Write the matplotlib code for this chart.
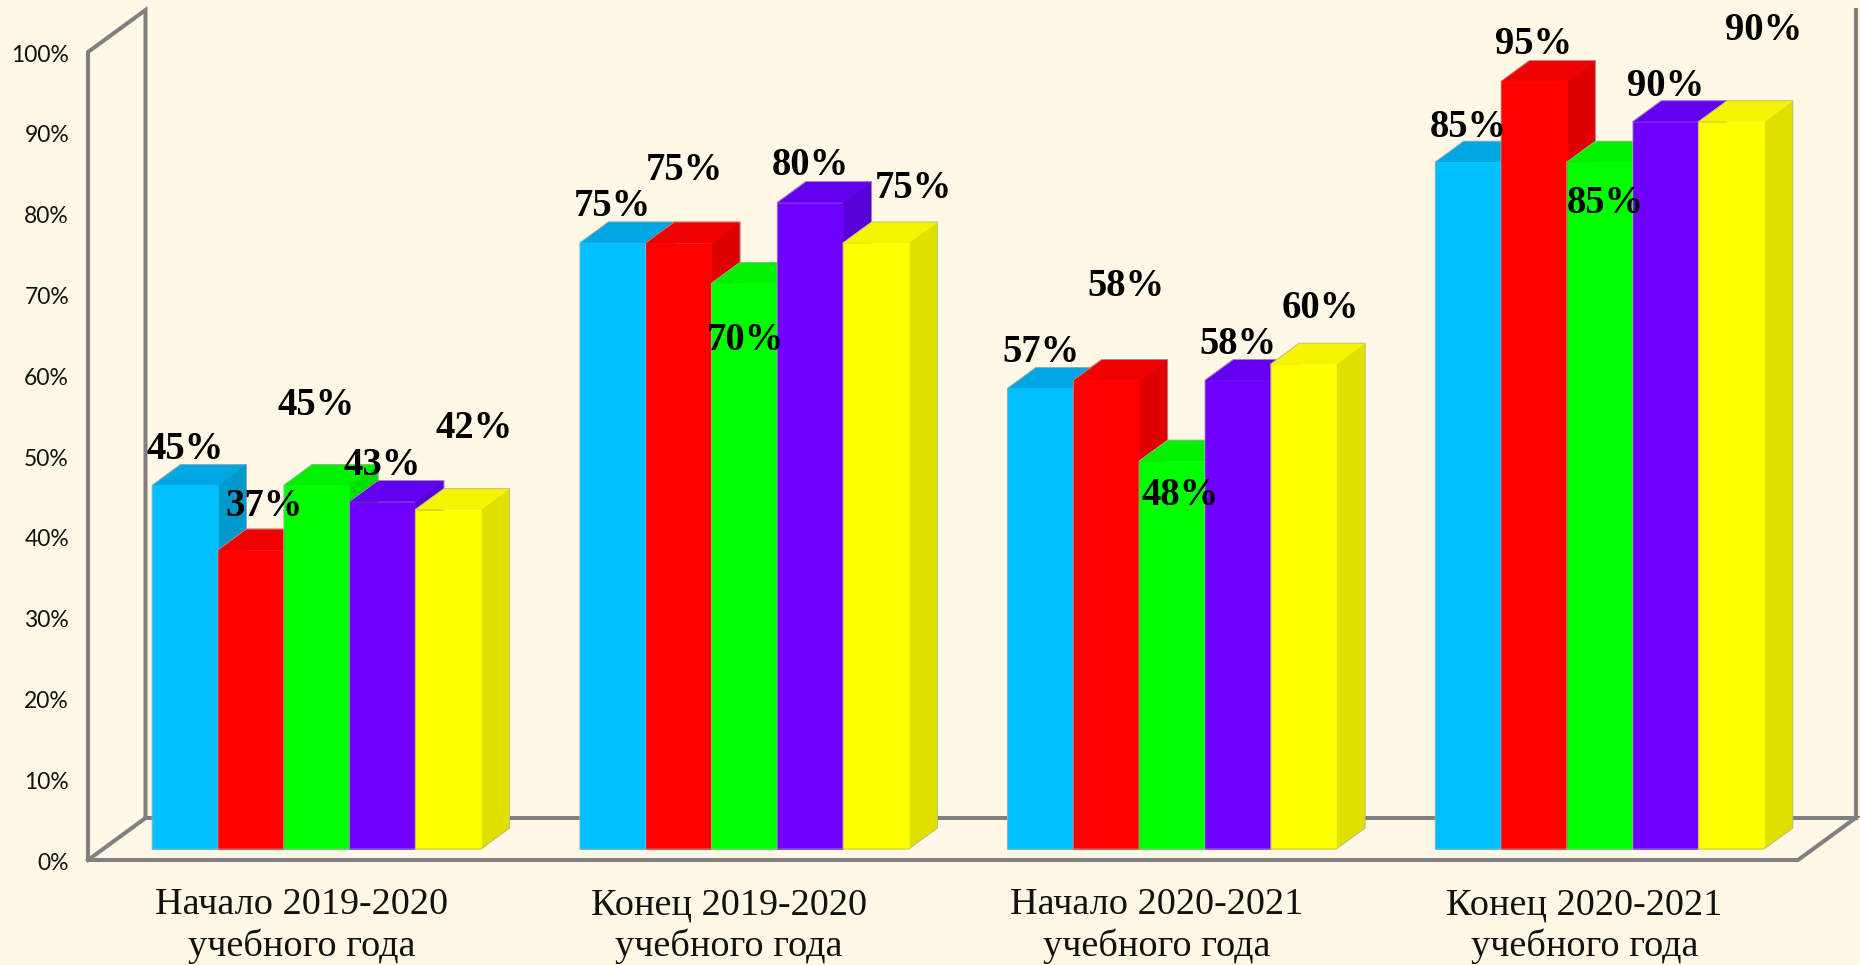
import matplotlib
matplotlib.use("Agg")
import matplotlib.pyplot as plt
from matplotlib.patches import Polygon

groups = ["Начало 2019-2020\nучебного года", "Конец 2019-2020\nучебного года",
          "Начало 2020-2021\nучебного года", "Конец 2020-2021\nучебного года"]
s1 = [45, 75, 57, 85]
s2 = [37, 75, 58, 95]
s3 = [45, 70, 48, 85]
s4 = [43, 80, 58, 90]
s5 = [42, 75, 60, 90]
ticks = [0, 10, 20, 30, 40, 50, 60, 70, 80, 90, 100]

# front, top, side
colors = [("#00BFFF", "#00A6E2", "#0099CC"),
          ("#FF0000", "#F00000", "#DF0000"),
          ("#00FF00", "#00F000", "#00E000"),
          ("#6F00FF", "#6400F0", "#5800D8"),
          ("#FFFF00", "#F5F500", "#E0E000")]

# label offset from the bar's top centre, in pixels (per series, per group)
offsets = [[(0, 36), (0, 37), (1, 36), (0, 35)],
           [(13, 44), (6, 73), (20, 94), (0, 37)],
           [(0, 80), (1, -57), (8, -34), (6, -41)],
           [(0, 36), (0, 37), (0, 36), (0, 35)],
           [(26, 81), (38, 54), (17, 56), (32, 91)]]

W, H = 1860, 965
bar_px = 65.8     # bar width
pct_px = 8.08     # pixels per percent
x0_px, y0_px = 152, 849
group_step = 6.5  # in bar widths
dx = 28.7 / bar_px
dy = 21 / pct_px
wall = "#808080"

fig = plt.figure(figsize=(W / 100, H / 100), dpi=100, facecolor="#FFF8E7")
ax = fig.add_axes([0, 0, 1, 1])
ax.set_xlim(-x0_px / bar_px, (W - x0_px) / bar_px)
ax.set_ylim((y0_px - H) / pct_px, y0_px / pct_px)
ax.axis("off")

# frame: floor and walls
y_front = -11 / pct_px
x_left = (88 - x0_px) / bar_px
x_right = (1798 - x0_px) / bar_px
wx, wy = 57.5 / bar_px, 42 / pct_px
top = ticks[-1] + y_front
ax.plot([x_left, x_left, x_left + wx, x_left + wx, x_left],
        [y_front, top, top + wy, y_front + wy, y_front], color=wall, lw=2.9, solid_joinstyle="miter")
ax.plot([x_left, x_right, x_right + wx, x_left + wx],
        [y_front, y_front, y_front + wy, y_front + wy], color=wall, lw=2.9, solid_joinstyle="miter")
ax.plot([x_right + wx, x_right + wx], [y_front + wy, top + wy], color=wall, lw=2.9)

for t in ticks:
    ax.annotate(f"{t}%", (x_left, t + y_front), xytext=(-19, -3), textcoords="offset pixels",
                ha="right", va="center", fontsize=16.5, family="Lato", color="#111111")

series = [s1, s2, s3, s4, s5]
for g, name in enumerate(groups):
    base = g * group_step
    for i, vals in enumerate(series):
        v = vals[g]
        l, r = base + i, base + i + 1
        front, topc, side = colors[i]
        outline = [(l, 0), (r, 0), (r + dx, dy), (r + dx, v + dy), (l + dx, v + dy), (l, v)]
        ax.add_patch(Polygon([(r, 0), (r + dx, dy), (r + dx, v + dy), (r, v)], fc=side, ec=side, lw=0.5, zorder=3 + i))
        ax.add_patch(Polygon([(l, v), (r, v), (r + dx, v + dy), (l + dx, v + dy)], fc=topc, ec=topc, lw=0.5, zorder=3 + i))
        ax.add_patch(Polygon([(l, 0), (r, 0), (r, v), (l, v)], fc=front, ec=front, lw=0.5, zorder=3 + i))
        ax.add_patch(Polygon(outline, fc="none", ec="#B0B0A8", lw=0.5, zorder=3 + i))
    ax.text(base + 2.5 - 15 / bar_px, -9.5, name, ha="center", va="center", fontsize=27.5,
            family="Liberation Serif", color="#111111", linespacing=1.23)

for i, vals in enumerate(series):
    for g, v in enumerate(vals):
        ax.annotate(f"{v}%", (g * group_step + i + 0.5, v), xytext=offsets[i][g], textcoords="offset pixels",
                    ha="center", va="center", fontsize=27.8, fontweight="bold",
                    family="Liberation Serif", color="black", zorder=20)

fig.savefig("out.png", dpi=100, facecolor=fig.get_facecolor())
